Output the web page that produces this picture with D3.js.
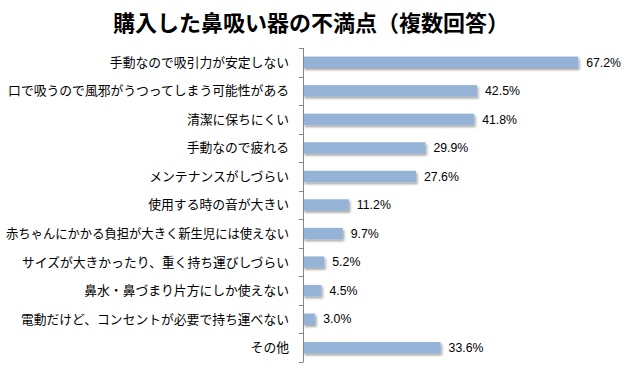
<!DOCTYPE html>
<html><head><meta charset="utf-8">
<script src="https://cdn.jsdelivr.net/npm/d3@7"></script>
<style>body{margin:0;background:#fff}svg{display:block}</style>
</head><body><svg id="c" width="632" height="377"></svg>
<script>
const title = "購入した鼻吸い器の不満点（複数回答）";
const categories = ["手動なので吸引力が安定しない","口で吸うので風邪がうつってしまう可能性がある","清潔に保ちにくい","手動なので疲れる","メンテナンスがしづらい","使用する時の音が大きい","赤ちゃんにかかる負担が大きく新生児には使えない","サイズが大きかったり、重く持ち運びしづらい","鼻水・鼻づまり片方にしか使えない","電動だけど、コンセントが必要で持ち運べない","その他"];
const values = [67.2,42.5,41.8,29.9,27.6,11.2,9.7,5.2,4.5,3.0,33.6];

const svg = d3.select("#c");
const defs = svg.append("defs");
const f = defs.append("filter").attr("id","sh").attr("x","-10%").attr("y","-50%").attr("width","130%").attr("height","250%");
f.append("feDropShadow").attr("dx",1.5).attr("dy",2).attr("stdDeviation",1).attr("flood-color","#000").attr("flood-opacity",0.35);

svg.append("text").attr("x",311).attr("y",31).attr("text-anchor","middle")
  .attr("font-family","'Noto Sans CJK JP'").attr("font-weight","bold").attr("font-size",22)
  .text(title);

const x = d3.scaleLinear().domain([0,80]).range([303,630.6]);
const y = d3.scaleBand().domain(categories).range([48,362]).paddingInner(0.6).paddingOuter(0.3);

const g = svg.append("g");
g.selectAll("rect").data(values).join("rect")
  .attr("x",x(0)).attr("y",(d,i)=>y(categories[i]))
  .attr("width",d=>x(d)-x(0)).attr("height",y.bandwidth())
  .attr("fill","#95b3d7").attr("filter","url(#sh)");

g.selectAll("text.v").data(values).join("text").attr("class","v")
  .attr("x",d=>x(d)+8).attr("y",(d,i)=>y(categories[i])+y.bandwidth()/2)
  .attr("dy","0.35em").attr("font-family","'Liberation Sans', Arial").attr("font-size",12.3)
  .attr("fill","#000").text(d=>d.toFixed(1)+"%");

// axis
const ax = svg.append("g").attr("stroke","#868686").attr("stroke-width",1);
ax.append("line").attr("x1",303.5).attr("x2",303.5).attr("y1",48).attr("y2",362);
const ticks = d3.range(categories.length+1).map(k=>48 + (362-48)*k/categories.length);
ax.selectAll("line.t").data(ticks).join("line").attr("class","t")
  .attr("x1",299).attr("x2",303.5).attr("y1",d=>Math.round(d)+0.5).attr("y2",d=>Math.round(d)+0.5);

svg.append("g").selectAll("text").data(categories).join("text")
  .attr("x",289).attr("y",d=>y(d)+y.bandwidth()/2).attr("dy","0.35em")
  .attr("text-anchor","end").attr("font-family","'Noto Sans CJK JP'").attr("font-size",12.8)
  .attr("fill","#000").text(d=>d)
  .each(function(){
    const w = this.getComputedTextLength();
    if (w > 283) { this.setAttribute("textLength",283); this.setAttribute("lengthAdjust","spacingAndGlyphs"); }
  });
</script></body></html>
